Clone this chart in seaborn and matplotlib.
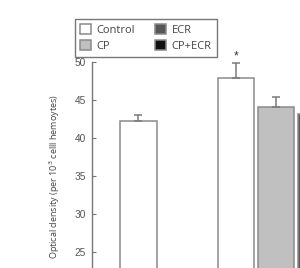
import matplotlib
matplotlib.use("Agg")
import matplotlib.pyplot as plt
import seaborn as sns
import pandas as pd
import numpy as np

# data
treatments = ["Control", "Control", "CP", "ECR", "CP+ECR"]
groups = ["A", "B", "B", "B", "B"]
means = [42.3, 48.0, 44.1, 43.2, 41.0]
errors = [0.8, 1.9, 1.3, 1.0, 1.0]
significant = [False, True, False, False, False]
hue_levels = ["Control", "CP", "ECR", "CP+ECR"]
palette = ["#ffffff", "#c0c0c0", "#575757", "#111111"]
yticks = [25, 30, 35, 40, 45, 50]
ylabel = "Optical density (per 10$^3$ celll hemoytes)"

# layout (bar slots along the axis)
slot = {"A": 0.0, "B": 2.43}
pos = []
count = {}
for g in groups:
    k = count.get(g, 0)
    pos.append(slot[g] + k * 0.99)
    count[g] = k + 1

df = pd.DataFrame({"pos": pos, "treatment": treatments, "value": means})

sns.set_style("white")
plt.rcParams["font.family"] = ["Liberation Sans", "DejaVu Sans"]

fig = plt.figure(figsize=(3.0, 2.68), dpi=100)
px_per_unit_y = 7.6 / 268
height = 50 * px_per_unit_y
top = 1 - 62.3 / 268
px_per_x = 40.2 / 300
xmin = -0.5 - (120 - 91.7 - 0) / 40.2 + 0.04
ax = fig.add_axes([91.7 / 300, top - height, 6.0 * px_per_x, height])

sns.barplot(data=df, x="pos", y="value", hue="treatment", hue_order=hue_levels,
            palette=palette, native_scale=True, dodge=False, width=0.915,
            errorbar=None, edgecolor="#8a8a8a", linewidth=1.1, ax=ax,
            legend=True)

ax.errorbar(pos, means, yerr=[np.zeros(len(errors)), errors], fmt="none",
            ecolor="#7a7a7a", elinewidth=1.1, capsize=3, capthick=1.1)
for p, m, e, s in zip(pos, means, errors, significant):
    if s:
        ax.annotate("*", (p, m + e), xytext=(0, 0.5), textcoords="offset points",
                    ha="center", va="bottom", fontsize=8.5, color="#333333")

ax.set_xlim(xmin, xmin + 6.0)
ax.set_ylim(0, 50)
ax.set_yticks(yticks)
ax.set_yticklabels([str(t) for t in yticks], fontsize=7.3, color="#555555")
ax.tick_params(axis="y", direction="in", length=3, width=0.8, color="#777777", pad=4, left=True)
ax.tick_params(axis="x", bottom=False, labelbottom=False)
ax.set_xlabel("")
ax.set_ylabel("")
for sp in ["top", "right", "bottom"]:
    ax.spines[sp].set_visible(False)
ax.spines["left"].set_color("#777777")
ax.spines["left"].set_linewidth(1.0)

fig.text(55 / 300, 1 - 177 / 268, ylabel, rotation=90, ha="center", va="center",
         fontsize=6.5, color="#444444", family=["Open Sans", "DejaVu Sans"])

handles, labels = ax.get_legend_handles_labels()
ax.get_legend().remove()
leg = fig.legend(handles, labels, ncol=2, loc="upper left",
                 bbox_to_anchor=(75 / 300, 1 - 19 / 268), borderaxespad=0,
                 frameon=True, fancybox=False, edgecolor="#555555",
                 prop={"family": ["Open Sans", "DejaVu Sans"], "size": 8},
                 handlelength=1.0, handleheight=1.0, handletextpad=0.5,
                 columnspacing=1.8, labelspacing=0.4, borderpad=0.45)
leg.get_frame().set_linewidth(1.0)
for t in leg.get_texts():
    t.set_color("#444444")

fig.savefig("out.png", dpi=100)
